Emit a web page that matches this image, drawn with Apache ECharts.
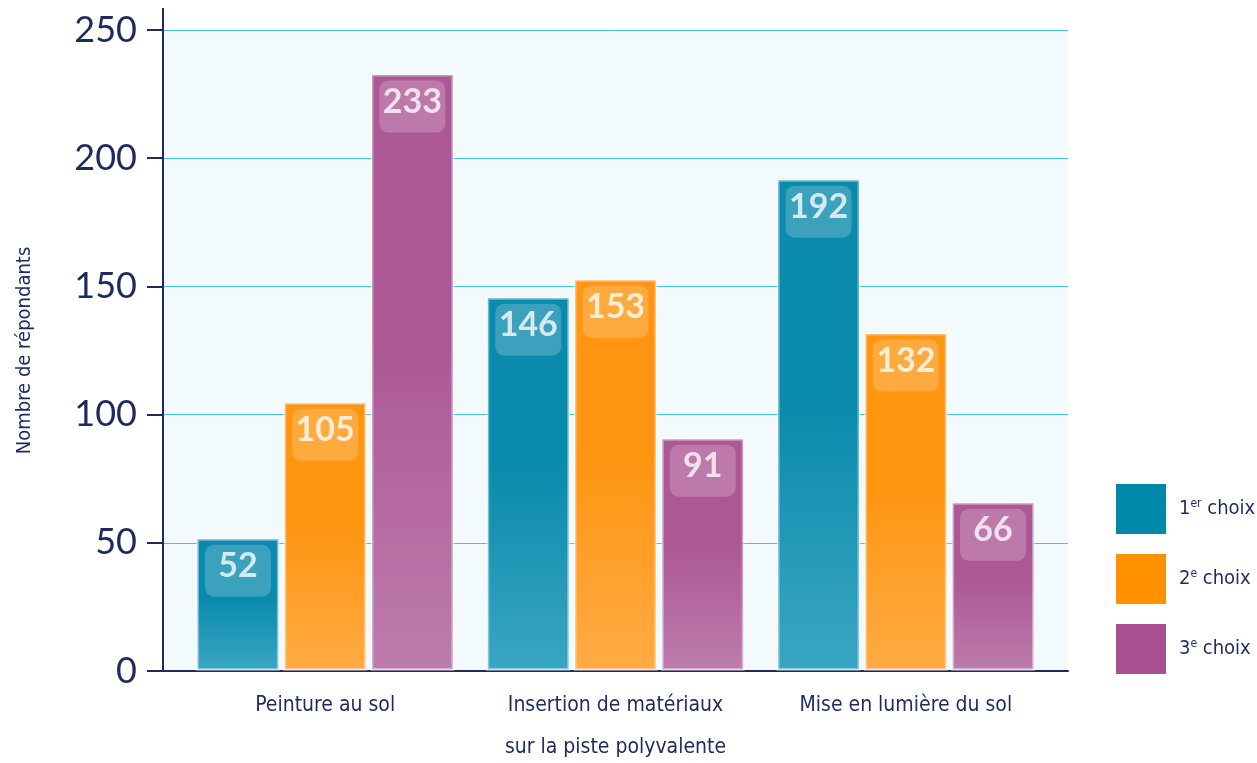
<!DOCTYPE html>
<html>
<head>
<meta charset="utf-8">
<script src="https://cdn.jsdelivr.net/npm/echarts@6/dist/echarts.min.js"></script>
<style>
html, body { margin: 0; padding: 0; background: #fff; }
#chart { width: 1257px; height: 763px; }
</style>
</head>
<body>
<div id="chart"></div>
<script>
// données
const categories = ['Peinture au sol', 'Insertion de matériaux\nsur la piste polyvalente', 'Mise en lumière du sol'];
const seriesNames = ['1er choix', '2e choix', '3e choix'];
const choix1 = [52, 146, 192];
const choix2 = [105, 153, 132];
const choix3 = [233, 91, 66];
const yTicks = [0, 50, 100, 150, 200, 250];

const navy = '#1e2a5e';
const narrow = '"Liberation Sans Narrow", "DejaVu Sans Condensed", "Roboto", sans-serif';
const colors = [
    ['#0a8aac', '#3aa6c3', '#0088aa'],
    ['#ff9510', '#ffab45', '#ff9100'],
    ['#ac5895', '#bd7cad', '#a94e91']
];

function makeSeries(name, data, c) {
    return {
        name: name,
        type: 'bar',
        xAxisIndex: 1,
        yAxisIndex: 1,
        data: data,
        barGap: '4%',
        barCategoryGap: '11%',
        itemStyle: {
            color: new echarts.graphic.LinearGradient(0, 0, 0, 1, [
                {offset: 0, color: c[0]},
                {offset: 0.45, color: c[0]},
                {offset: 1, color: c[1]}
            ]),
            borderColor: 'rgba(255,255,255,0.4)',
            borderWidth: 3
        },
        label: {
            show: true,
            position: 'insideTop',
            distance: 7,
            fontFamily: 'Lato, "Open Sans", sans-serif',
            fontWeight: 'bold',
            fontSize: 34,
            color: 'rgba(255,255,255,0.78)',
            backgroundColor: 'rgba(255,255,255,0.2)',
            borderRadius: 9,
            width: 60,
            align: 'center',
            padding: [4, 3, 14, 3]
        }
    };
}

let myChart = echarts.init(document.getElementById('chart'));
myChart.setOption({
    animation: false,
    color: colors.map(c => c[2]),
    grid: [{
        left: 163,
        right: 189,
        top: 30,
        bottom: 92,
        show: true,
        backgroundColor: '#f2fafd',
        borderWidth: 0,
        outerBoundsMode: 'none'
    }, {
        left: 180,
        right: 206,
        top: 30,
        bottom: 92,
        outerBoundsMode: 'none'
    }],
    legend: {
        orient: 'vertical',
        left: 1116,
        top: 484,
        padding: 0,
        itemWidth: 50,
        itemHeight: 50,
        itemGap: 20,
        icon: 'rect',
        data: seriesNames.map((n, i) => ({name: n, itemStyle: {color: colors[i][2], borderWidth: 0}})),
        formatter: function (name) {
            let m = name.match(/^(\d)(\S+) (.*)$/);
            return '{f|' + m[1] + '}{s|' + m[2] + '}{n| ' + m[3] + '}';
        },
        textStyle: {
            rich: {
                f: {fontFamily: narrow, fontSize: 20, color: navy, padding: [0, 0, 0, 8]},
                n: {fontFamily: narrow, fontSize: 20, color: navy},
                s: {fontFamily: narrow, fontSize: 12, color: navy, padding: [0, 0, 10, 0]}
            }
        }
    },
    xAxis: [{
        type: 'category',
        gridIndex: 0,
        data: categories,
        axisLine: {lineStyle: {color: navy, width: 2}},
        axisTick: {show: false},
        axisLabel: {show: false}
    }, {
        type: 'category',
        gridIndex: 1,
        data: categories,
        axisLine: {show: false},
        axisTick: {show: false},
        axisLabel: {
            interval: 0,
            fontFamily: narrow,
            fontSize: 21,
            color: navy,
            lineHeight: 42,
            margin: 14
        }
    }],
    yAxis: [{
        type: 'value',
        gridIndex: 0,
        min: 0,
        max: 250,
        interval: 50,
        name: 'Nombre de répondants',
        nameLocation: 'middle',
        nameGap: 128,
        nameRotate: 90,
        nameTextStyle: {fontFamily: narrow, fontSize: 20, color: navy},
        axisLine: {show: true, lineStyle: {color: navy, width: 2}},
        axisTick: {show: true, length: 16, lineStyle: {color: navy, width: 2}},
        axisLabel: {
            fontFamily: 'Lato, "Open Sans", sans-serif',
            fontSize: 36,
            color: navy,
            margin: 26,
            formatter: function (v) { return yTicks.indexOf(v) >= 0 ? String(v) : ''; }
        },
        splitLine: {lineStyle: {color: '#3ec8e0', width: 1}}
    }, {
        type: 'value',
        gridIndex: 1,
        min: 0,
        max: 250,
        interval: 50,
        show: false
    }],
    graphic: [{
        type: 'line',
        shape: {x1: 163, y1: 8, x2: 163, y2: 30},
        style: {stroke: navy, lineWidth: 2}
    }],
    series: [
        makeSeries(seriesNames[0], choix1, colors[0]),
        makeSeries(seriesNames[1], choix2, colors[1]),
        makeSeries(seriesNames[2], choix3, colors[2])
    ]
});
</script>
</body>
</html>
